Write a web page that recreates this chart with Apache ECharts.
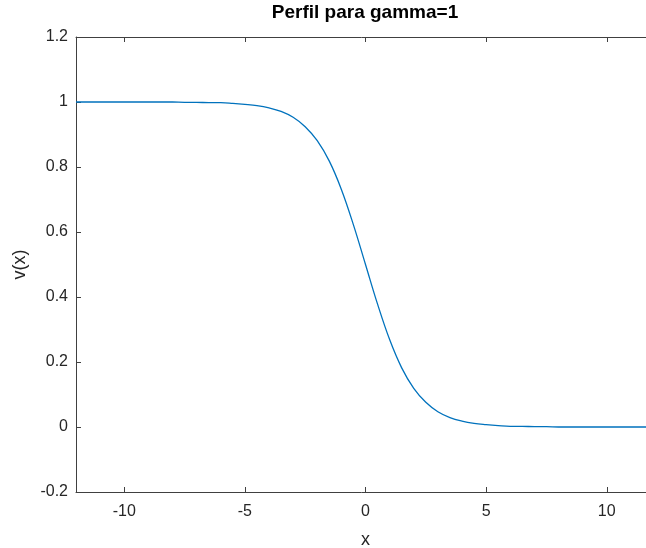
<!DOCTYPE html>
<html>
<head>
<meta charset="utf-8">
<title>Perfil para gamma=1</title>
<script src="https://cdn.jsdelivr.net/npm/echarts@6/dist/echarts.min.js"></script>
<style>
  html, body { margin: 0; padding: 0; background: #ffffff; }
  #chart { width: 646px; height: 548px; }
</style>
</head>
<body>
<div id="chart"></div>
<script>
// Profile v(x) sampled along x
var xValues = [-12, -11, -10, -9, -8, -7.5, -7, -6.5, -6, -5.5, -5, -4.5, -4, -3.5, -3, -2.5, -2, -1.5, -1, -0.5,
               0, 0.5, 1, 1.5, 2, 2.5, 3, 3.5, 4, 4.5, 5, 5.5, 6, 6.5, 7, 7.5, 8, 9, 10, 11, 12];
var vValues = [1.000, 1.000, 1.000, 1.000, 1.000, 0.999, 0.999, 0.998, 0.998, 0.996, 0.993, 0.989, 0.982, 0.971, 0.953, 0.924, 0.881, 0.818, 0.731, 0.622,
               0.500, 0.378, 0.269, 0.182, 0.119, 0.076, 0.047, 0.029, 0.018, 0.011, 0.007, 0.004, 0.002, 0.002, 0.001, 0.001, 0.000, 0.000, 0.000, 0.000, 0.000];

// Axis ticks
var xTicks = [-10, -5, 0, 5, 10];
var yTicks = [-0.2, 0, 0.2, 0.4, 0.6, 0.8, 1, 1.2];

var points = xValues.map(function (x, i) { return [x, vValues[i]]; });

var axisColor = '#404040';
var textColor = '#262626';
var font = '"Liberation Sans", Arial, Helvetica, sans-serif';

var chart = echarts.init(document.getElementById('chart'), null, { renderer: 'canvas' });

chart.setOption({
  animation: false,
  backgroundColor: '#ffffff',
  title: {
    text: 'Perfil para gamma=1',
    left: 365,
    textAlign: 'center',
    top: 3,
    padding: 0,
    textStyle: { fontFamily: font, fontSize: 19, fontWeight: 'bold', color: '#000000' }
  },
  // the axes box runs slightly past the right edge (x = 12 sits just outside the canvas)
  grid: { left: 76, top: 37, right: -9, bottom: 56, containLabel: false, outerBoundsMode: 'none' },
  xAxis: [
    {
      type: 'value', min: -12, max: 12, position: 'bottom',
      name: 'x', nameLocation: 'middle', nameGap: 39,
      nameTextStyle: { fontFamily: font, fontSize: 18, color: textColor },
      axisLine: { show: true, onZero: false, lineStyle: { color: axisColor, width: 1 } },
      axisTick: { show: true, inside: true, length: 5, customValues: xTicks, lineStyle: { color: axisColor } },
      axisLabel: { customValues: xTicks, margin: 12, fontFamily: font, fontSize: 16, color: textColor },
      splitLine: { show: false }
    },
    {
      type: 'value', min: -12, max: 12, position: 'top',
      axisLine: { show: true, onZero: false, lineStyle: { color: axisColor, width: 1 } },
      axisTick: { show: true, inside: true, length: 5, customValues: xTicks, lineStyle: { color: axisColor } },
      axisLabel: { show: false },
      splitLine: { show: false }
    }
  ],
  yAxis: [
    {
      type: 'value', min: -0.2, max: 1.2, interval: 0.2, position: 'left',
      name: 'v(x)', nameLocation: 'middle', nameGap: 44, nameRotate: 90,
      nameTextStyle: { fontFamily: font, fontSize: 18, color: textColor },
      axisLine: { show: true, onZero: false, lineStyle: { color: axisColor, width: 1 } },
      axisTick: { show: true, inside: true, length: 5, customValues: yTicks, lineStyle: { color: axisColor } },
      axisLabel: {
        customValues: yTicks, margin: 8, fontFamily: font, fontSize: 16, color: textColor,
        formatter: function (v) { return String(Math.round(v * 10) / 10); }
      },
      splitLine: { show: false }
    },
    {
      type: 'value', min: -0.2, max: 1.2, interval: 0.2, position: 'right',
      axisLine: { show: true, onZero: false, lineStyle: { color: axisColor, width: 1 } },
      axisTick: { show: true, inside: true, length: 5, lineStyle: { color: axisColor } },
      axisLabel: { show: false },
      splitLine: { show: false }
    }
  ],
  series: [
    {
      type: 'line',
      xAxisIndex: 0,
      yAxisIndex: 0,
      data: points,
      smooth: 0.4,
      showSymbol: false,
      symbol: 'none',
      lineStyle: { color: '#0072BD', width: 1.3 }
    }
  ]
});
</script>
</body>
</html>
